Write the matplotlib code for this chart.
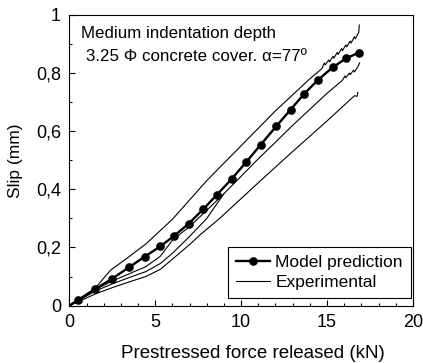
import matplotlib
matplotlib.use("Agg")
import matplotlib.pyplot as plt
from matplotlib.ticker import MultipleLocator, FuncFormatter

plt.rcParams['font.family'] = ['Liberation Sans', 'DejaVu Sans']

# model prediction (force kN, slip mm)
model_x = [0, 0.5, 1.5, 2.5, 3.5, 4.4, 5.3, 6.1, 6.95, 7.8, 8.6, 9.47, 10.3,
           11.13, 12.05, 12.88, 13.65, 14.49, 15.34, 16.13, 16.85]
model_y = [0, 0.019, 0.057, 0.093, 0.133, 0.169, 0.204, 0.240, 0.282, 0.332,
           0.382, 0.437, 0.494, 0.553, 0.617, 0.674, 0.727, 0.777, 0.820,
           0.851, 0.870]

# experimental curves
exp1_x = [0, 0.5, 1.5, 2.4, 3.4, 4.45, 6, 8, 10, 12, 14, 14.7, 14.85, 14.9,
          15.1, 15.15, 15.35, 15.4, 15.6, 15.65, 15.85, 15.9, 16.1, 16.15,
          16.35, 16.4, 16.6, 16.65, 16.85, 16.88]
exp1_y = [0, 0.02, 0.06, 0.122, 0.165, 0.212, 0.297, 0.43, 0.55, 0.67, 0.78,
          0.815, 0.835, 0.828, 0.845, 0.838, 0.858, 0.851, 0.871, 0.864,
          0.884, 0.877, 0.897, 0.89, 0.91, 0.903, 0.925, 0.918, 0.94, 0.965]

exp2_x = [0, 0.5, 1.5, 2.5, 3.5, 4.45, 5.3, 6, 7, 8, 9, 10, 11, 12.14, 13,
          14, 15, 15.9, 16.05, 16.1, 16.3, 16.35, 16.55, 16.6, 16.8, 16.9]
exp2_y = [0, 0.018, 0.055, 0.085, 0.11, 0.134, 0.17, 0.225, 0.272, 0.328,
          0.385, 0.445, 0.505, 0.570, 0.62, 0.675, 0.73, 0.775, 0.79, 0.784,
          0.80, 0.794, 0.81, 0.804, 0.822, 0.835]

exp3_x = [0, 0.5, 1.5, 2.5, 3.5, 4.45, 5.3, 6, 7, 8, 9]
exp3_y = [0, 0.016, 0.05, 0.075, 0.097, 0.117, 0.145, 0.18, 0.238, 0.30, 0.385]

exp4_x = [0, 0.5, 1.5, 2.5, 3.5, 4.45, 5.3, 6, 7, 7.6, 8.75, 11.17, 13, 15,
          16.6, 16.75, 16.8]
exp4_y = [0, 0.013, 0.04, 0.062, 0.082, 0.10, 0.125, 0.16, 0.21, 0.243,
          0.30, 0.432, 0.53, 0.635, 0.722, 0.72, 0.733]

fig = plt.figure(figsize=(4.23, 3.63), dpi=100)
ax = fig.add_axes([0.164, 0.158, 0.812, 0.801])

for ex, ey in [(exp1_x, exp1_y), (exp2_x, exp2_y), (exp3_x, exp3_y), (exp4_x, exp4_y)]:
    ax.plot(ex, ey, color='black', lw=0.8)
ax.plot([], [], color='black', lw=0.8, label='Experimental')
ax.plot(model_x, model_y, color='black', lw=1.7, marker='o', ms=5.2,
        markevery=list(range(1, len(model_x))), label='Model prediction', zorder=3)

ax.set_xlim(0, 20)
ax.set_ylim(0, 1)
ax.xaxis.set_major_locator(MultipleLocator(5))
ax.xaxis.set_minor_locator(MultipleLocator(1))
ax.yaxis.set_major_locator(MultipleLocator(0.2))
ax.yaxis.set_minor_locator(MultipleLocator(0.1))
ax.yaxis.set_major_formatter(FuncFormatter(lambda v, p: ('%g' % round(v, 2)).replace('.', ',')))
ax.tick_params(which='major', direction='in', length=4, width=0.8, labelsize=13, pad=6)
ax.tick_params(which='minor', direction='in', length=2.5, width=0.8)

ax.set_xlabel('Prestressed force released (kN)', fontsize=13.5, labelpad=9)
ax.set_ylabel('Slip (mm)', fontsize=12.5, labelpad=9)
ax.xaxis.set_label_coords(0.535, -0.135)

ax.text(0.034, 0.962, 'Medium indentation depth', transform=ax.transAxes,
        fontsize=12.2, va='top')
ax.text(0.047, 0.882, '3.25 \u03a6 concrete cover. \u03b1=77\u00ba', transform=ax.transAxes,
        fontsize=12.2, va='top')

handles, labels = ax.get_legend_handles_labels()
leg = ax.legend(handles[::-1], labels[::-1], loc='lower right',
                bbox_to_anchor=(0.994, 0.0265), borderaxespad=0, fontsize=12.5,
                fancybox=False, edgecolor='black', framealpha=1,
                handlelength=2.0, handletextpad=0.3, borderpad=0.45,
                labelspacing=0.3)
leg.get_frame().set_linewidth(0.8)

fig.savefig('out.png', dpi=100)
